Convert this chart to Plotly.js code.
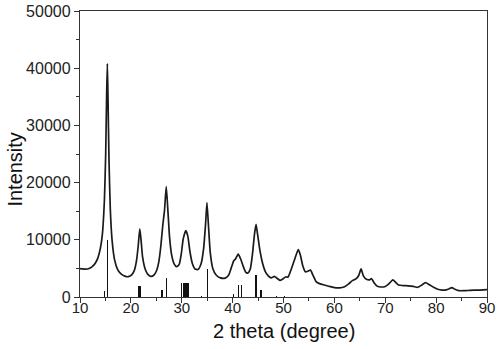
<!DOCTYPE html>
<html>
<head>
<meta charset="utf-8">
<script src="https://cdn.plot.ly/plotly-3.0.1.min.js"></script>
<style>
  html, body { margin: 0; padding: 0; background: #ffffff; }
  #chart { width: 500px; height: 349px; }
</style>
</head>
<body>
<div id="chart"></div>
<script>
// Measured XRD pattern (2 theta in degrees, intensity)
const twoTheta = [
  10, 10.5, 11, 11.5, 12, 12.5, 13, 13.5, 14, 14.4, 14.8, 15.05, 15.25, 15.38, 15.5, 15.7, 15.95,
  16.3, 16.8, 17.4, 18, 18.8, 19.5, 20.2, 20.7, 21.1, 21.45, 21.75, 22.0, 22.3, 22.8, 23.3, 23.9,
  24.5, 25.0, 25.5, 25.9, 26.3, 26.6, 26.95, 27.25, 27.6, 28.0, 28.5, 29.0, 29.5, 29.9, 30.3, 30.8,
  31.2, 31.6, 32.1, 32.6, 33.2, 33.8, 34.3, 34.7, 34.95, 35.25, 35.6, 36.1, 36.8, 37.6, 38.5, 39.2,
  39.7, 40.2, 40.6, 41.1, 41.6, 42.1, 42.6, 43.0, 43.5, 43.9, 44.3, 44.6, 44.9, 45.3, 45.8, 46.4,
  47.0, 47.6, 48.2, 48.7, 49.3, 49.8, 50.4, 50.9, 51.5, 52.2, 52.9, 53.3, 53.8, 54.3, 54.8, 55.3,
  55.8, 56.4, 57.2, 58.0, 59.0, 60.0, 61.0, 62.0, 62.8, 63.6, 64.3, 64.8, 65.25, 65.7, 66.3, 66.9,
  67.3, 67.8, 68.4, 69.2, 70.0, 70.7, 71.5, 72.0, 72.6, 73.5, 74.5, 75.5, 76.4, 77.2, 77.9, 78.6,
  79.5, 80.3, 81.2, 82.0, 82.6, 83.1, 83.7, 84.5, 85.5, 86.5, 87.5, 88.5, 89.3, 90
];
const intensity = [
  4950, 4900, 4880, 4900, 5050, 5400, 5900, 6800, 8500, 11000, 17000, 25000, 36000, 40800, 35000, 24000, 15500,
  10000, 6500, 4800, 4100, 3650, 3550, 3900, 4700, 6300, 9000, 11900, 10000, 7000, 4900, 4000, 3600,
  3800, 4500, 6200, 9000, 12800, 15000, 19300, 15500, 10500, 7400, 5800, 5300, 5700, 7500, 10200, 11600,
  10600, 8000, 5800, 4900, 4800, 5800, 8500, 13000, 16500, 12500, 7800, 5000, 3800, 3350, 3300, 3800,
  5000, 6300, 6700, 7500, 6600, 5300, 4300, 4200, 5000, 7500, 11000, 12700, 11000, 8500, 6200, 4500,
  3700, 3350, 3600, 3300, 2900, 3100, 3500, 3500, 4800, 6600, 8300, 7400, 5400, 4400, 4500, 4700,
  3800, 2700, 2300, 2100, 1850, 1650, 1600, 1800, 2300, 2900, 3200, 3800, 4900, 3700, 3100, 3000,
  3200, 2500, 1900, 1750, 1850, 2300, 3000, 2600, 2100, 2000, 1950, 1850, 1700, 2100, 2500, 2200,
  1700, 1350, 1200, 1250, 1450, 1650, 1350, 1100, 1100, 1150, 1200, 1200, 1250, 1300
];

// Reference pattern (stick lines)
const refTheta = [14.85, 15.35, 21.55, 21.75, 21.95, 26.1, 27.0, 29.95, 30.4, 30.65, 30.9, 31.25,
  33.95, 35.0, 40.1, 41.15, 41.8, 44.6, 45.6, 48.6, 50.2];
const refIntensity = [1100, 10000, 1900, 1900, 1900, 1150, 3300, 2400, 2400, 2400, 2400, 2400,
  250, 4850, 550, 2100, 2100, 3900, 1150, 200, 250];

const xTickVals = [10, 20, 30, 40, 50, 60, 70, 80, 90];
const yTickVals = [0, 10000, 20000, 30000, 40000, 50000];

const axisColor = '#333333';
const fontFamily = 'Liberation Sans, Arial, sans-serif';

const data = [
  {
    type: 'bar',
    x: refTheta,
    y: refIntensity,
    width: 0.25,
    marker: { color: '#111111', line: { width: 0 } },
    hoverinfo: 'x+y',
    showlegend: false
  },
  {
    type: 'scatter',
    mode: 'lines',
    x: twoTheta,
    y: intensity,
    line: { color: '#1a1a1a', width: 1.7, shape: 'spline', smoothing: 0.5 },
    showlegend: false
  }
];

const layout = {
  width: 500,
  height: 349,
  margin: { l: 79.5, r: 13, t: 11, b: 52 },
  paper_bgcolor: '#ffffff',
  plot_bgcolor: '#ffffff',
  font: { family: fontFamily, color: '#222222', size: 16 },
  bargap: 0,
  xaxis: {
    range: [10, 90],
    tickvals: xTickVals,
    ticks: 'outside',
    ticklen: 5,
    tickwidth: 1,
    tickcolor: axisColor,
    ticklabelstandoff: -8,
    showline: true,
    linecolor: axisColor,
    linewidth: 1.2,
    mirror: true,
    showgrid: false,
    zeroline: false,
    tickfont: { size: 15, family: fontFamily, color: '#222222' },
    minor: { dtick: 5, tick0: 5, ticks: 'outside', ticklen: 3, tickcolor: axisColor, showgrid: false }
  },
  yaxis: {
    range: [0, 50000],
    tickvals: yTickVals,
    tickformat: 'd',
    ticks: 'outside',
    ticklen: 5,
    tickwidth: 1,
    tickcolor: axisColor,
    showline: true,
    linecolor: axisColor,
    linewidth: 1.2,
    mirror: true,
    showgrid: false,
    zeroline: false,
    tickfont: { size: 16, family: fontFamily, color: '#222222' },
    minor: { dtick: 5000, tick0: 5000, ticks: 'outside', ticklen: 3, tickcolor: axisColor, showgrid: false }
  },
  annotations: [
    {
      text: 'Intensity',
      textangle: -90,
      xref: 'paper', yref: 'paper',
      x: -0.16, y: 0.445,
      xanchor: 'center', yanchor: 'middle',
      showarrow: false,
      font: { size: 20, family: fontFamily, color: '#111111' }
    },
    {
      text: '2 theta (degree)',
      xref: 'paper', yref: 'paper',
      x: 0.5, y: -0.118,
      xanchor: 'center', yanchor: 'middle',
      showarrow: false,
      borderpad: 0,
      font: { size: 20, family: fontFamily, color: '#111111' }
    }
  ]
};

Plotly.newPlot('chart', data, layout, { displayModeBar: false, staticPlot: true });
</script>
</body>
</html>
